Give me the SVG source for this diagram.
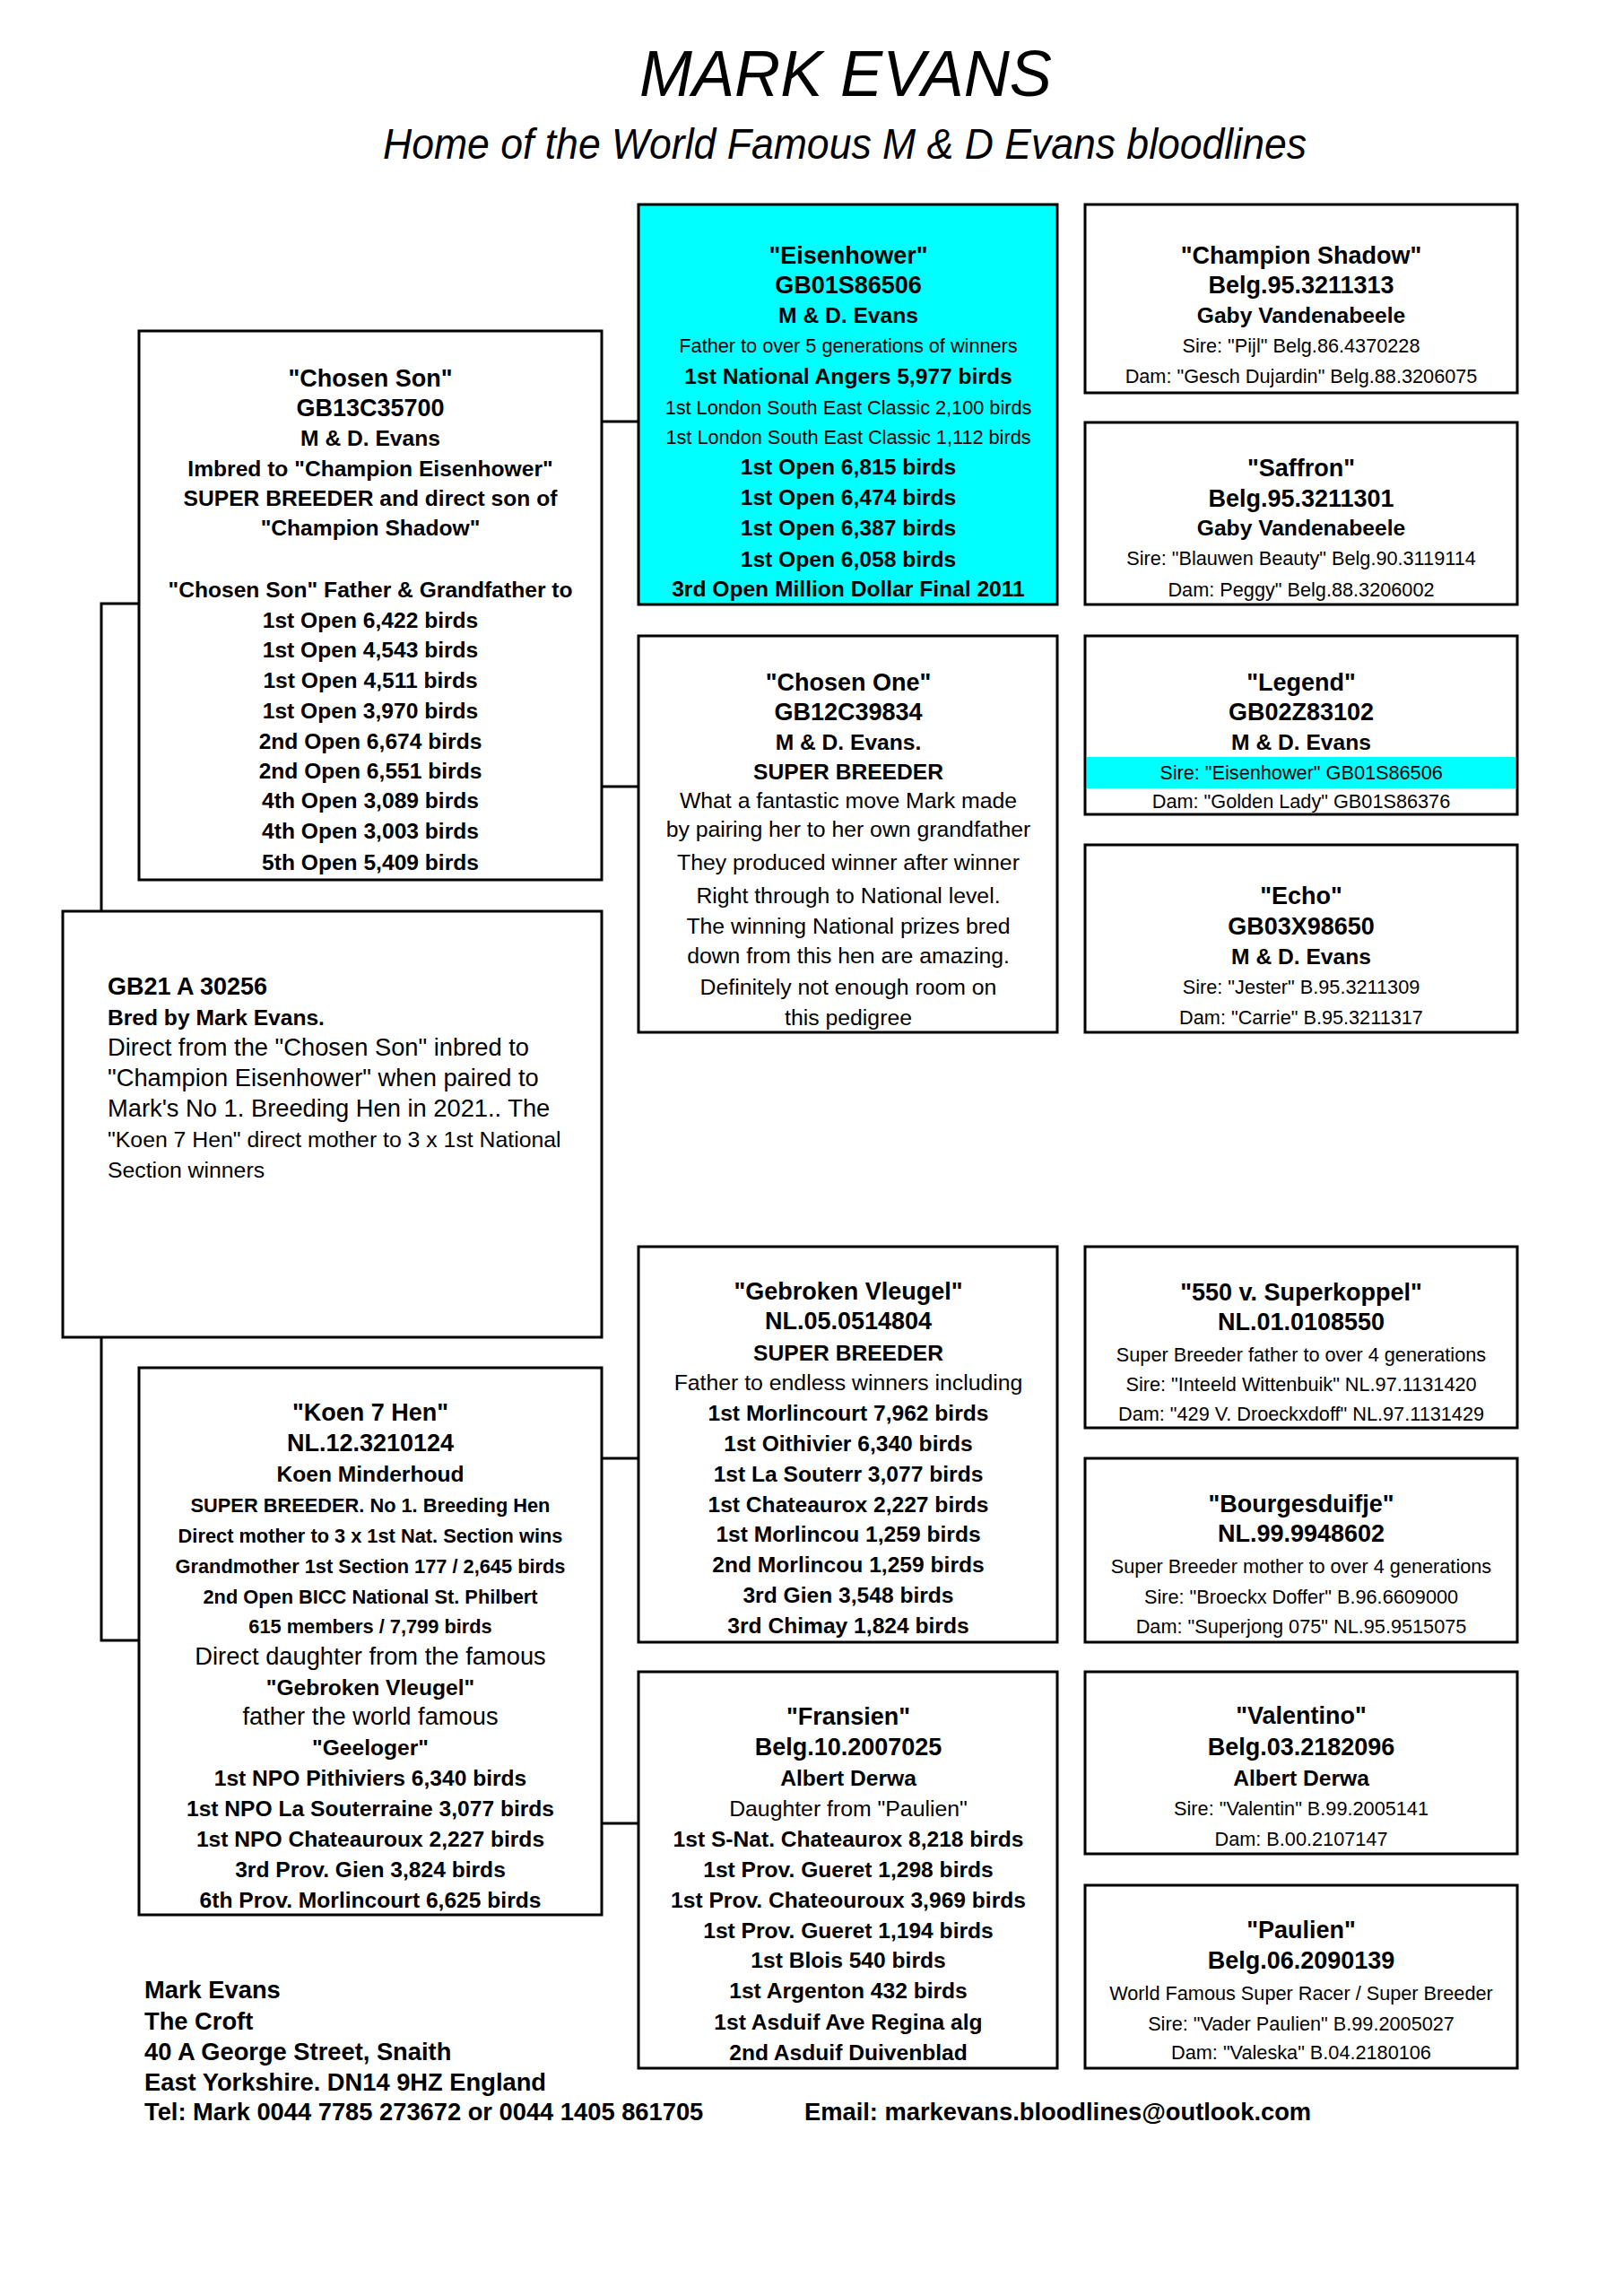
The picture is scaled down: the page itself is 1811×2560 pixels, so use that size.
<svg xmlns="http://www.w3.org/2000/svg" width="1811" height="2560" viewBox="0 0 1811 2560">
<style>
text{font-family:"Liberation Sans",Arial,sans-serif;fill:#000}
.c{text-anchor:middle}
.n{font-weight:bold;font-size:27px}
.b{font-weight:bold;font-size:24.6px}
.B{font-weight:bold;font-size:21.8px}
.r{font-size:21.7px}
.R{font-size:24.8px}
.L{font-size:27.3px}
.f{font-weight:bold;font-size:27.3px}
.box{fill:#fff;stroke:#000;stroke-width:3}
.cy{fill:#00ffff}
.conn{fill:none;stroke:#000;stroke-width:3}
</style>
<rect width="1811" height="2560" fill="#fff"/>
<g id="title">
<text x="943" y="107" class="c" font-style="italic" font-size="72" textLength="460" lengthAdjust="spacingAndGlyphs">MARK EVANS</text>
<text x="942" y="177" class="c" font-style="italic" font-size="48" textLength="1030" lengthAdjust="spacingAndGlyphs">Home of the World Famous M &amp; D Evans bloodlines</text>
</g>
<g id="connectors">
<path class="conn" d="M671 470H712"/>
<path class="conn" d="M671 877H712"/>
<path class="conn" d="M155 673H113V1016"/>
<path class="conn" d="M113 1491V1829H155"/>
<path class="conn" d="M671 1626H712"/>
<path class="conn" d="M671 2033H712"/>
</g>
<g id="eisenhower" class="c">
<rect class="box cy" x="712" y="228" width="467" height="446"/>
<text x="946" y="294" class="n">"Eisenhower"</text>
<text x="946" y="327" class="n">GB01S86506</text>
<text x="946" y="360" class="b">M &amp; D. Evans</text>
<text x="946" y="393" class="r">Father to over 5 generations of winners</text>
<text x="946" y="428" class="b">1st National Angers 5,977 birds</text>
<text x="946" y="462" class="r">1st London South East Classic 2,100 birds</text>
<text x="946" y="495" class="r">1st London South East Classic 1,112 birds</text>
<text x="946" y="529" class="b">1st Open 6,815 birds</text>
<text x="946" y="563" class="b">1st Open 6,474 birds</text>
<text x="946" y="597" class="b">1st Open 6,387 birds</text>
<text x="946" y="632" class="b">1st Open 6,058 birds</text>
<text x="946" y="665" class="b">3rd Open Million Dollar Final 2011</text>
</g>
<g id="champion-shadow" class="c">
<rect class="box" x="1210" y="228" width="482" height="210"/>
<text x="1451" y="294" class="n">"Champion Shadow"</text>
<text x="1451" y="327" class="n">Belg.95.3211313</text>
<text x="1451" y="360" class="b">Gaby Vandenabeele</text>
<text x="1451" y="393" class="r">Sire: "Pijl" Belg.86.4370228</text>
<text x="1451" y="427" class="r">Dam: "Gesch Dujardin" Belg.88.3206075</text>
</g>
<g id="saffron" class="c">
<rect class="box" x="1210" y="471" width="482" height="203"/>
<text x="1451" y="531" class="n">"Saffron"</text>
<text x="1451" y="565" class="n">Belg.95.3211301</text>
<text x="1451" y="597" class="b">Gaby Vandenabeele</text>
<text x="1451" y="630" class="r">Sire: "Blauwen Beauty" Belg.90.3119114</text>
<text x="1451" y="665" class="r">Dam: Peggy" Belg.88.3206002</text>
</g>
<g id="chosen-son" class="c">
<rect class="box" x="155" y="369" width="516" height="612"/>
<text x="413" y="431" class="n">"Chosen Son"</text>
<text x="413" y="464" class="n">GB13C35700</text>
<text x="413" y="497" class="b">M &amp; D. Evans</text>
<text x="413" y="531" class="b">Imbred to "Champion Eisenhower"</text>
<text x="413" y="564" class="b">SUPER BREEDER and direct son of</text>
<text x="413" y="597" class="b">"Champion Shadow"</text>
<text x="413" y="666" class="b">"Chosen Son" Father &amp; Grandfather to</text>
<text x="413" y="700" class="b">1st Open 6,422 birds</text>
<text x="413" y="733" class="b">1st Open 4,543 birds</text>
<text x="413" y="767" class="b">1st Open 4,511 birds</text>
<text x="413" y="801" class="b">1st Open 3,970 birds</text>
<text x="413" y="835" class="b">2nd Open 6,674 birds</text>
<text x="413" y="868" class="b">2nd Open 6,551 birds</text>
<text x="413" y="901" class="b">4th Open 3,089 birds</text>
<text x="413" y="935" class="b">4th Open 3,003 birds</text>
<text x="413" y="970" class="b">5th Open 5,409 birds</text>
</g>
<g id="chosen-one" class="c">
<rect class="box" x="712" y="709" width="467" height="442"/>
<text x="946" y="770" class="n">"Chosen One"</text>
<text x="946" y="803" class="n">GB12C39834</text>
<text x="946" y="836" class="b">M &amp; D. Evans.</text>
<text x="946" y="869" class="b">SUPER BREEDER</text>
<text x="946" y="901" class="R">What a fantastic move Mark made</text>
<text x="946" y="933" class="R">by pairing her to her own grandfather</text>
<text x="946" y="970" class="R">They produced winner after winner</text>
<text x="946" y="1007" class="R">Right through to National level.</text>
<text x="946" y="1041" class="R">The winning National prizes bred</text>
<text x="946" y="1074" class="R">down from this hen are amazing.</text>
<text x="946" y="1109" class="R">Definitely not enough room on</text>
<text x="946" y="1143" class="R">this pedigree</text>
</g>
<g id="legend" class="c">
<rect class="box" x="1210" y="709" width="482" height="199"/>
<rect class="cy" x="1212" y="844" width="478" height="35"/>
<text x="1451" y="770" class="n">"Legend"</text>
<text x="1451" y="803" class="n">GB02Z83102</text>
<text x="1451" y="836" class="b">M &amp; D. Evans</text>
<text x="1451" y="869" class="r">Sire: "Eisenhower" GB01S86506</text>
<text x="1451" y="901" class="r">Dam: "Golden Lady" GB01S86376</text>
</g>
<g id="echo" class="c">
<rect class="box" x="1210" y="942" width="482" height="209"/>
<text x="1451" y="1008" class="n">"Echo"</text>
<text x="1451" y="1042" class="n">GB03X98650</text>
<text x="1451" y="1075" class="b">M &amp; D. Evans</text>
<text x="1451" y="1108" class="r">Sire: "Jester" B.95.3211309</text>
<text x="1451" y="1142" class="r">Dam: "Carrie" B.95.3211317</text>
</g>
<g id="gb21">
<rect class="box" x="70" y="1016" width="601" height="475"/>
<text x="120" y="1109" class="n">GB21 A 30256</text>
<text x="120" y="1143" class="b">Bred by Mark Evans.</text>
<text x="120" y="1177" class="L">Direct from the "Chosen Son" inbred to</text>
<text x="120" y="1211" class="L">"Champion Eisenhower" when paired to</text>
<text x="120" y="1245" class="L">Mark's No 1. Breeding Hen in 2021.. The</text>
<text x="120" y="1279" class="R">"Koen 7 Hen" direct mother to 3 x 1st National</text>
<text x="120" y="1313" class="R">Section winners</text>
</g>
<g id="gebroken-vleugel" class="c">
<rect class="box" x="712" y="1390" width="467" height="441"/>
<text x="946" y="1449" class="n">"Gebroken Vleugel"</text>
<text x="946" y="1482" class="n">NL.05.0514804</text>
<text x="946" y="1517" class="b">SUPER BREEDER</text>
<text x="946" y="1550" class="R">Father to endless winners including</text>
<text x="946" y="1584" class="b">1st Morlincourt 7,962 birds</text>
<text x="946" y="1618" class="b">1st Oithivier 6,340 birds</text>
<text x="946" y="1652" class="b">1st La Souterr 3,077 birds</text>
<text x="946" y="1686" class="b">1st Chateaurox 2,227 birds</text>
<text x="946" y="1719" class="b">1st Morlincou 1,259 birds</text>
<text x="946" y="1753" class="b">2nd Morlincou 1,259 birds</text>
<text x="946" y="1787" class="b">3rd Gien 3,548 birds</text>
<text x="946" y="1821" class="b">3rd Chimay 1,824 birds</text>
</g>
<g id="superkoppel-550" class="c">
<rect class="box" x="1210" y="1390" width="482" height="202"/>
<text x="1451" y="1450" class="n">"550 v. Superkoppel"</text>
<text x="1451" y="1483" class="n">NL.01.0108550</text>
<text x="1451" y="1518" class="r">Super Breeder father to over 4 generations</text>
<text x="1451" y="1551" class="r">Sire: "Inteeld Wittenbuik" NL.97.1131420</text>
<text x="1451" y="1584" class="r">Dam: "429 V. Droeckxdoff" NL.97.1131429</text>
</g>
<g id="bourgesduifje" class="c">
<rect class="box" x="1210" y="1626" width="482" height="205"/>
<text x="1451" y="1686" class="n">"Bourgesduifje"</text>
<text x="1451" y="1719" class="n">NL.99.9948602</text>
<text x="1451" y="1754" class="r">Super Breeder mother to over 4 generations</text>
<text x="1451" y="1788" class="r">Sire: "Broeckx Doffer" B.96.6609000</text>
<text x="1451" y="1821" class="r">Dam: "Superjong 075" NL.95.9515075</text>
</g>
<g id="koen-7-hen" class="c">
<rect class="box" x="155" y="1525" width="516" height="610"/>
<text x="413" y="1584" class="n">"Koen 7 Hen"</text>
<text x="413" y="1618" class="n">NL.12.3210124</text>
<text x="413" y="1652" class="b">Koen Minderhoud</text>
<text x="413" y="1686" class="B">SUPER BREEDER. No 1. Breeding Hen</text>
<text x="413" y="1720" class="B">Direct mother to 3 x 1st Nat. Section wins</text>
<text x="413" y="1754" class="B">Grandmother 1st Section 177 / 2,645 birds</text>
<text x="413" y="1788" class="B">2nd Open BICC National St. Philbert</text>
<text x="413" y="1821" class="B">615 members / 7,799 birds</text>
<text x="413" y="1856" class="L">Direct daughter from the famous</text>
<text x="413" y="1890" class="b">"Gebroken Vleugel"</text>
<text x="413" y="1923" class="L">father the world famous</text>
<text x="413" y="1957" class="b" font-size="26">"Geeloger"</text>
<text x="413" y="1991" class="b">1st NPO Pithiviers 6,340 birds</text>
<text x="413" y="2025" class="b">1st NPO La Souterraine 3,077 birds</text>
<text x="413" y="2059" class="b">1st NPO Chateauroux 2,227 birds</text>
<text x="413" y="2093" class="b">3rd Prov. Gien 3,824 birds</text>
<text x="413" y="2127" class="b">6th Prov. Morlincourt 6,625 birds</text>
</g>
<g id="fransien" class="c">
<rect class="box" x="712" y="1864" width="467" height="442"/>
<text x="946" y="1923" class="n">"Fransien"</text>
<text x="946" y="1957" class="n">Belg.10.2007025</text>
<text x="946" y="1991" class="b">Albert Derwa</text>
<text x="946" y="2025" class="R">Daughter from "Paulien"</text>
<text x="946" y="2059" class="b">1st S-Nat. Chateaurox 8,218 birds</text>
<text x="946" y="2093" class="b">1st Prov. Gueret 1,298 birds</text>
<text x="946" y="2127" class="b">1st Prov. Chateouroux 3,969 birds</text>
<text x="946" y="2161" class="b">1st Prov. Gueret 1,194 birds</text>
<text x="946" y="2194" class="b">1st Blois 540 birds</text>
<text x="946" y="2228" class="b">1st Argenton 432 birds</text>
<text x="946" y="2263" class="b">1st Asduif Ave Regina alg</text>
<text x="946" y="2297" class="b">2nd Asduif Duivenblad</text>
</g>
<g id="valentino" class="c">
<rect class="box" x="1210" y="1864" width="482" height="203"/>
<text x="1451" y="1922" class="n">"Valentino"</text>
<text x="1451" y="1957" class="n">Belg.03.2182096</text>
<text x="1451" y="1991" class="b">Albert Derwa</text>
<text x="1451" y="2024" class="r">Sire: "Valentin" B.99.2005141</text>
<text x="1451" y="2058" class="r">Dam: B.00.2107147</text>
</g>
<g id="paulien" class="c">
<rect class="box" x="1210" y="2102" width="482" height="204"/>
<text x="1451" y="2161" class="n">"Paulien"</text>
<text x="1451" y="2195" class="n">Belg.06.2090139</text>
<text x="1451" y="2230" class="r">World Famous Super Racer / Super Breeder</text>
<text x="1451" y="2264" class="r">Sire: "Vader Paulien" B.99.2005027</text>
<text x="1451" y="2296" class="r">Dam: "Valeska" B.04.2180106</text>
</g>
<g id="footer">
<text x="161" y="2228" class="f">Mark Evans</text>
<text x="161" y="2263" class="f">The Croft</text>
<text x="161" y="2297" class="f">40 A George Street, Snaith</text>
<text x="161" y="2331" class="f">East Yorkshire. DN14 9HZ England</text>
<text x="161" y="2364" class="f">Tel: Mark 0044 7785 273672 or 0044 1405 861705</text>
<text x="897" y="2364" class="f">Email: markevans.bloodlines@outlook.com</text>
</g>
</svg>
